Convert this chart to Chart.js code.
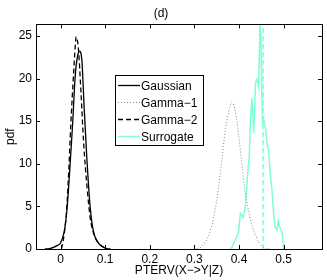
<!DOCTYPE html>
<html>
<head>
<meta charset="utf-8">
<script src="https://cdn.jsdelivr.net/npm/chart.js@4/dist/chart.umd.min.js"></script>
<style>
  html, body { margin: 0; padding: 0; background: #fff; }
  #wrap { width: 327px; height: 280px; }
</style>
</head>
<body>
<div id="wrap"><canvas id="Chart" width="327" height="280"></canvas></div>
<script>
// values
const gaussX = [-0.035, -0.025, -0.016, -0.008, 0.0, 0.008, 0.014, 0.020, 0.027, 0.033, 0.038, 0.0426, 0.048, 0.053, 0.059, 0.0666, 0.074, 0.085, 0.100, 0.112];
const gaussY = [0, 0.05, 0.2, 0.4, 0.7, 2.0, 4.4, 8.7, 14.6, 20.4, 22.6, 23.2, 22.0, 16.5, 10.6, 4.8, 2.0, 0.7, 0.1, 0];

const gamma1X = [0.300, 0.310, 0.317, 0.332, 0.343, 0.354, 0.362, 0.369, 0.377, 0.384, 0.392, 0.399, 0.405, 0.414, 0.425, 0.437, 0.452, 0.470];
const gamma1Y = [0, 0.1, 0.3, 1.6, 3.6, 7.2, 10.7, 13.8, 16.1, 17.2, 16.1, 13.4, 10.7, 6.7, 3.6, 1.6, 0.3, 0];

const gamma2X = [0.002, 0.007, 0.0128, 0.018, 0.023, 0.029, 0.033, 0.035, 0.040, 0.0457, 0.0516, 0.059, 0.0666, 0.0756, 0.089, 0.104];
const gamma2Y = [0, 1.3, 4.0, 8.7, 14.6, 20.4, 23.8, 24.9, 23.5, 18.5, 12.6, 7.5, 3.6, 1.6, 0.5, 0];

const surrX = [0.380, 0.384, 0.392, 0.399, 0.403, 0.409, 0.414, 0.419, 0.423, 0.426, 0.429, 0.433, 0.437, 0.440, 0.444, 0.447, 0.449, 0.451, 0.453, 0.456, 0.459, 0.463, 0.466, 0.470, 0.474, 0.478, 0.481, 0.485, 0.488, 0.491, 0.494, 0.497, 0.500];
const surrY = [0, 0.2, 1.1, 2.0, 4.2, 3.7, 4.8, 8.5, 11.0, 15.5, 17.7, 13.6, 19.5, 19.9, 19.0, 26.3, 25.0, 18.0, 14.8, 15.0, 14.2, 12.5, 11.6, 8.9, 6.8, 4.0, 2.6, 2.2, 3.3, 2.6, 2.2, 1.8, 0];

const markX = [0.454, 0.454];
const markY = [0, 26.35];

const xTicks = [0, 0.1, 0.2, 0.3, 0.4, 0.5];
const yTicks = [0, 5, 10, 15, 20, 25];
const seriesNames = ['Gaussian', 'Gamma\u22121', 'Gamma\u22122', 'Surrogate'];

function pts(xs, ys) {
  return xs.map((x, i) => ({ x: x, y: ys[i] }));
}

const FONT = '"Liberation Sans", Arial, sans-serif';

// box round the plot, ticks pointing inwards, and the legend
const framePlugin = {
  id: 'frame',
  afterDraw(chart) {
    const c = chart.ctx;
    const a = chart.chartArea;
    const xs = chart.scales.x, ys = chart.scales.y;
    c.save();
    c.strokeStyle = '#000';
    c.lineWidth = 1;
    c.setLineDash([]);
    c.strokeRect(Math.round(a.left) + 0.5, Math.round(a.top) + 0.5, Math.round(a.right - a.left), Math.round(a.bottom - a.top));
    c.beginPath();
    xTicks.forEach(v => {
      const px = Math.round(xs.getPixelForValue(v)) + 0.5;
      c.moveTo(px, a.bottom); c.lineTo(px, a.bottom - 4);
      c.moveTo(px, a.top); c.lineTo(px, a.top + 4);
    });
    yTicks.forEach(v => {
      const py = Math.round(ys.getPixelForValue(v)) + 0.5;
      c.moveTo(a.left, py); c.lineTo(a.left + 4, py);
      c.moveTo(a.right, py); c.lineTo(a.right - 4, py);
    });
    c.stroke();

    // legend
    const lx = a.left + 79, ly = a.top + 51, lw = 88, lh = 70;
    c.fillStyle = '#fff';
    c.fillRect(lx, ly, lw, lh);
    c.strokeRect(Math.round(lx) + 0.5, Math.round(ly) + 0.5, lw, lh);
    c.font = '12px ' + FONT;
    c.textBaseline = 'middle';
    seriesNames.forEach((name, i) => {
      const ds = chart.data.datasets[i];
      const yy = Math.round(ly + 10 + i * 16.7) + 0.5;
      c.beginPath();
      c.strokeStyle = ds.borderColor;
      c.lineWidth = ds.borderWidth;
      c.setLineDash(ds.borderDash || []);
      c.moveTo(lx + 3, yy); c.lineTo(lx + 25, yy);
      c.stroke();
      c.fillStyle = '#000';
      c.fillText(name, lx + 26, yy + 1);
    });
    c.restore();
  }
};

const ctx = document.getElementById('Chart');

new Chart(ctx, {
  type: 'scatter',
  data: {
    datasets: [{
      label: seriesNames[0],
      data: pts(gaussX, gaussY),
      borderColor: '#000',
      borderWidth: 1.3,
      cubicInterpolationMode: 'monotone'
    }, {
      label: seriesNames[1],
      data: pts(gamma1X, gamma1Y),
      borderColor: '#888',
      borderWidth: 1,
      borderDash: [1, 2],
      cubicInterpolationMode: 'monotone'
    }, {
      label: seriesNames[2],
      data: pts(gamma2X, gamma2Y),
      borderColor: '#000',
      borderWidth: 1.3,
      borderDash: [5, 3],
      cubicInterpolationMode: 'monotone'
    }, {
      label: seriesNames[3],
      data: pts(surrX, surrY),
      borderColor: '#7fffd4',
      borderWidth: 1.5
    }, {
      label: 'mark',
      data: pts(markX, markY),
      borderColor: '#7fffd4',
      borderWidth: 1.5,
      borderDash: [5, 3]
    }].map(d => Object.assign({ showLine: true, pointRadius: 0, fill: false }, d))
  },
  options: {
    responsive: false,
    animation: false,
    events: [],
    layout: { padding: { left: 0, right: 5, top: 0, bottom: 0 } },
    plugins: {
      legend: { display: false },
      tooltip: { enabled: false },
      title: {
        display: true,
        text: '(d)',
        color: '#000',
        font: { family: FONT, size: 12, weight: 'normal' },
        padding: { top: 6, bottom: 4 }
      }
    },
    scales: {
      x: {
        type: 'linear',
        min: -0.055,
        max: 0.586,
        afterBuildTicks: s => { s.ticks = xTicks.map(v => ({ value: v })); },
        afterFit: s => { s.height = 31; },
        grid: { display: false, drawTicks: false },
        border: { display: false },
        ticks: {
          color: '#000',
          padding: 3,
          maxRotation: 0,
          font: { family: FONT, size: 12 },
          callback: v => String(v)
        },
        title: {
          display: true,
          text: 'PTERV(X\u2212>Y|Z)',
          color: '#000',
          font: { family: FONT, size: 12 },
          padding: { top: 0, bottom: 2 }
        }
      },
      y: {
        min: 0,
        max: 26.35,
        afterBuildTicks: s => { s.ticks = yTicks.map(v => ({ value: v })); },
        afterFit: s => { s.width = 36; },
        grid: { display: false, drawTicks: false },
        border: { display: false },
        ticks: {
          color: '#000',
          padding: 4,
          font: { family: FONT, size: 12 },
          callback: v => String(v)
        },
        title: {
          display: true,
          text: 'pdf',
          color: '#000',
          font: { family: FONT, size: 12 },
          padding: { top: 3, bottom: 0 }
        }
      }
    }
  },
  plugins: [framePlugin]
});
</script>
</body>
</html>
